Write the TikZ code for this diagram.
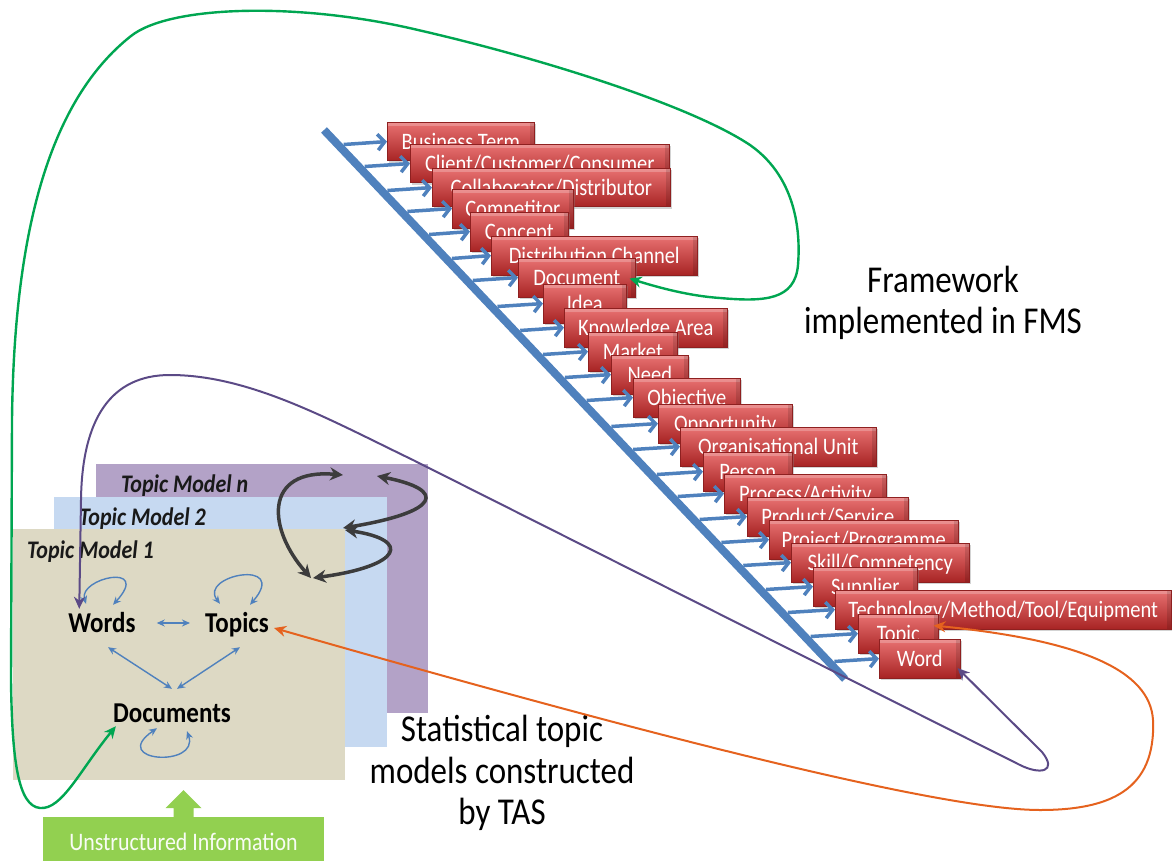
\documentclass[tikz,border=0pt]{standalone}
\usepackage{fontspec}
\usepackage{graphicx}
\setmainfont{Carlito}
\usetikzlibrary{arrows.meta,calc,shadows}

\definecolor{stairblue}{HTML}{4F81BD}
\definecolor{boxtop}{HTML}{E87272}
\definecolor{boxmid}{HTML}{CF3535}
\definecolor{boxbot}{HTML}{A82424}
\definecolor{boxedge}{HTML}{8E2020}
\definecolor{pnlN}{HTML}{B3A2C7}
\definecolor{pnlTwo}{HTML}{C6D9F1}
\definecolor{pnlOne}{HTML}{DDD9C4}
\definecolor{infogreen}{HTML}{92D050}
\definecolor{linkgreen}{HTML}{00A651}
\definecolor{linkpurple}{HTML}{5B4A86}
\definecolor{linkorange}{HTML}{E5621E}
\definecolor{loopgray}{HTML}{3C3C3C}
\definecolor{innerblue}{HTML}{4F81BD}

% slightly tall lettering
\newcommand\tallText[1]{\scalebox{1}[1.15]{#1}}

\tikzset{
  rbox/.style={draw=boxedge, line width=0.6pt, top color=boxtop, middle color=boxmid,
    bottom color=boxbot, minimum height=38.5pt, inner sep=0pt, text height=15.2pt,
    text depth=0pt, anchor=north west, text=white, font=\fontsize{20.5}{24}\selectfont,
    drop shadow={shadow xshift=2pt, shadow yshift=-2pt, opacity=0.35},
    path picture={
      \fill[white, opacity=0.22] (path picture bounding box.north west)
        rectangle ([yshift=-4pt]path picture bounding box.north east);
      \fill[black, opacity=0.12] ([xshift=-4pt]path picture bounding box.north east)
        rectangle (path picture bounding box.south east);}},
  rung/.style={stairblue, line width=3.5pt, -{Straight Barb[length=7pt,width=16pt]}},
  panel/.style={inner sep=0pt, anchor=north west},
  tmlabel/.style={inner sep=0pt, anchor=west, text=black!90,
    font=\fontsize{22}{26}\selectfont\bfseries\itshape},
  term/.style={inner sep=0pt, text height=18pt, text depth=0pt, text=black,
    font=\fontsize{25}{29}\selectfont\bfseries},
  inner/.style={innerblue, line width=1.4pt, {Stealth[length=8pt,width=7pt]}-{Stealth[length=8pt,width=7pt]}},
  dloop/.style={loopgray, line width=3.5pt, {Stealth[length=13pt,width=13pt]}-{Stealth[length=13pt,width=13pt]}},
  caption/.style={align=center, inner sep=0pt, text=black, font=\fontsize{33}{41.5}\selectfont},
}

\begin{document}
\begin{tikzpicture}[x=1pt,y=-1pt]
\useasboundingbox (0,0) rectangle (1172,861);

% the stair of framework terms
\coordinate (stairtop) at (324,130);
\coordinate (stairbot) at (845,679);
\draw[stairblue, line width=8pt] (stairtop) -- (stairbot);

\foreach \T/\L/\W/\txt [count=\i] in {
  122/387/147/{Business Term},
  144/410/259/{Client/Customer/Consumer},
  168/432/238/{Collaborator/Distributor},
  189/452/121/{Competitor},
  212/470/98/{Concept},
  236/491/206/{Distribution Channel},
  258/518/117/{Document},
  284/543/83/{Idea},
  308/564/163/{Knowledge Area},
  332/588/89/{Market},
  355/611/77/{Need},
  378/633/107/{Objective},
  404/658/134/{Opportunity},
  427/680/196/{Organisational Unit},
  452/703/89/{Person},
  474/724/162/{Process/Activity},
  497/747/161/{Product/Service},
  520/769/189/{Project/Programme},
  543/791/178/{Skill/Competency},
  567/813/104/{Supplier},
  590/835/336/{Technology/Method/Tool/Equipment},
  614/858/80/{Topic},
  639/879/81/{Word}} {
  \node[rbox, minimum width=\W pt] (b\i) at (\L,\T) {\tallText{\txt}};
  \coordinate (r\i) at ({324+0.949*(\T+22.5-130)+6},{\T+22.5});
  \draw[rung] (r\i) -- (b\i.west);
}

% stacked topic models
\node[panel, fill=pnlN, minimum width=332pt, minimum height=249pt] (tmN) at (96,464) {};
\node[panel, fill=pnlTwo, minimum width=333pt, minimum height=250pt] (tmTwo) at (54,497) {};
\node[panel, fill=pnlOne, minimum width=332pt, minimum height=251pt] (tmOne) at (13,529) {};
\node[tmlabel] (lblN) at (121,486) {\tallText{Topic Model n}};
\node[tmlabel] (lblTwo) at (79,519) {\tallText{Topic Model 2}};
\node[tmlabel] (lblOne) at (27,552) {\tallText{Topic Model 1}};

\node[term] (words) at (102,623) {\tallText{Words}};
\node[term] (topics) at (237,623) {\tallText{Topics}};
\node[term] (docs) at (172,713) {\tallText{Documents}};

% relations inside a topic model
\draw[inner] ($(words.east)+(21,0)$) -- ($(topics.west)+(-15,0)$);
\draw[inner] ($(words.south)+(6,15)$) -- ($(docs.north)+(0,-15)$);
\draw[inner] ($(topics.south)+(3,15)$) -- ($(docs.north)+(5,-15)$);
\draw[inner] ($(words.north)+(-16,-10)$) .. controls (78,578) and (152,562) .. ($(words.north)+(11,-9)$);
\draw[inner] ($(topics.north)+(-17,-10)$) .. controls (198,575) and (290,558) .. ($(topics.north)+(13,-9)$);
\draw[inner] ($(docs.south)+(-15,6)$) .. controls (108,762) and (200,768) .. ($(docs.south)+(15,9)$);

% links between the stacked models
\coordinate (mA) at (343,475);
\coordinate (mB) at (377,476);
\coordinate (mC) at (343,528);
\coordinate (mD) at (311,578);
\draw[dloop] (mA) .. controls (262,468) and (268,530) .. (mD);
\draw[dloop] (mB) .. controls (448,490) and (440,512) .. (mC);
\draw[dloop] ($(mC)+(2,2)$) .. controls (412,540) and (402,566) .. ($(mD)+(2,0)$);

% unstructured information feeding the models
\node[inner sep=0pt, anchor=north, fill=infogreen, minimum width=281pt, minimum height=50pt,
  text=white!94!infogreen, font=\fontsize{21.9}{26}\selectfont] (ui) at (183.5,817) {\tallText{Unstructured Information}};
\fill[infogreen] ($(ui.north)+(0,-27)$) -- ($(ui.north)+(18,-9)$) -- ($(ui.north)+(10,-9)$)
  -- ($(ui.north)+(10,0)$) -- ($(ui.north)+(-10,0)$) -- ($(ui.north)+(-10,-9)$)
  -- ($(ui.north)+(-18,-9)$) -- cycle;

% captions
\node[caption] (fms) at (943,303) {\tallText{Framework}\\\tallText{implemented in FMS}};
\node[caption] (tas) at (502,773) {\tallText{Statistical topic}\\\tallText{models constructed}\\\tallText{by TAS}};

% mappings between the framework and the topic models
\draw[linkgreen, line width=2.4pt, {Stealth[length=12pt,width=11pt]}-{Stealth[length=12pt,width=11pt]}]
  ($(docs.south west)+(3,4)$) .. controls (80,770) and (62,810) .. (40,808)
  .. controls (18,806) and (12,760) .. (11,680) -- (12,420)
  .. controls (14,230) and (50,100) .. (131,36)
  .. controls (170,5) and (300,2) .. (418,30)
  .. controls (540,58) and (690,105) .. (750,145)
  .. controls (800,180) and (800,240) .. (798,265)
  .. controls (795,300) and (765,302) .. (720,298)
  .. controls (690,296) and (660,288) .. ($(b7.east)+(-6,1)$);

\draw[linkpurple, line width=2pt, {Stealth[length=12pt,width=11pt]}-{Stealth[length=12pt,width=11pt]}]
  ($(b23.south east)+(-3,-10)$) -- (1042,752)
  .. controls (1058,772) and (1040,775) .. (1020,765) -- (413,460)
  .. controls (330,420) and (250,375) .. (170,375)
  .. controls (110,375) and (82,420) .. (81,500) -- ($(words.north west)+(11,-5)$);

\draw[linkorange, line width=2pt, {Stealth[length=12pt,width=11pt]}-{Stealth[length=12pt,width=11pt]}]
  ($(b22.east)+(-5,-8)$) .. controls (1080,640) and (1150,670) .. (1153,720)
  .. controls (1156,790) and (1110,810) .. (1040,810)
  .. controls (950,810) and (700,750) .. ($(topics.east)+(5,5)$);
\end{tikzpicture}
\end{document}
